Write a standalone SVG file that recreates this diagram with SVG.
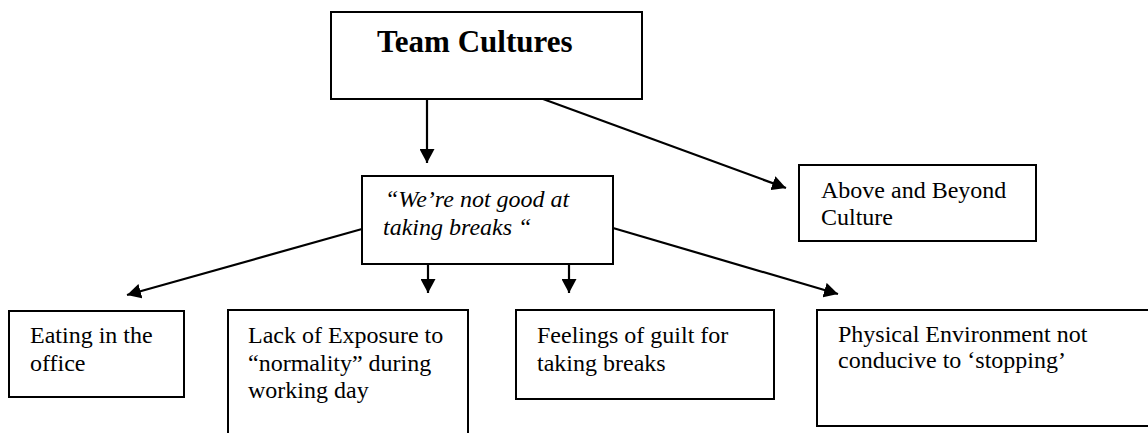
<svg xmlns="http://www.w3.org/2000/svg" width="1148" height="433" viewBox="0 0 1148 433">
<style>
.box{fill:#fff;stroke:#000;stroke-width:2}
.t{font-family:"Liberation Serif","Times New Roman",serif;font-size:24px;fill:#000}
.it{font-style:italic}
.title{font-size:31px;font-weight:bold}
.conn{stroke:#000;stroke-width:2.2;fill:none;marker-end:url(#ah)}
</style>
<defs>
<marker id="ah" viewBox="0 0 14 15" refX="14" refY="7.5" markerWidth="14" markerHeight="15" markerUnits="userSpaceOnUse" orient="auto">
<path d="M0,0 L14,7.5 L0,15 z" fill="#000"/>
</marker>
</defs>
<rect width="1148" height="433" fill="#fff"/>
<g id="connectors">
<line class="conn" x1="427" y1="99" x2="427" y2="163"/>
<line class="conn" x1="543" y1="99" x2="786" y2="188"/>
<line class="conn" x1="362" y1="229" x2="127" y2="295"/>
<line class="conn" x1="613" y1="228" x2="838" y2="294"/>
<line class="conn" x1="428" y1="264" x2="428" y2="293"/>
<line class="conn" x1="569" y1="264" x2="569" y2="293"/>
</g>
<g id="team-cultures">
<rect class="box" x="331" y="12" width="311" height="87"/>
<text class="t title" x="377" y="52">Team Cultures</text>
</g>
<g id="not-good-at-breaks">
<rect class="box" x="362" y="176" width="251" height="88"/>
<text class="t it" x="385" y="207">“We’re not good at</text>
<text class="t it" x="383" y="235">taking breaks “</text>
</g>
<g id="above-beyond">
<rect class="box" x="799" y="165" width="237" height="76"/>
<text class="t" x="821" y="198">Above and Beyond</text>
<text class="t" x="821" y="225">Culture</text>
</g>
<g id="eating-office">
<rect class="box" x="9" y="311" width="175" height="86"/>
<text class="t" x="30" y="343">Eating in the</text>
<text class="t" x="30" y="371">office</text>
</g>
<g id="lack-exposure">
<rect class="box" x="228" y="310" width="240" height="140"/>
<text class="t" x="248" y="343">Lack of Exposure to</text>
<text class="t" x="248" y="371">“normality” during</text>
<text class="t" x="248" y="398">working day</text>
</g>
<g id="feelings-guilt">
<rect class="box" x="516" y="310" width="258" height="89"/>
<text class="t" x="537" y="343">Feelings of guilt for</text>
<text class="t" x="537" y="371">taking breaks</text>
</g>
<g id="physical-environment">
<rect class="box" x="817" y="310" width="340" height="116"/>
<text class="t" x="838" y="342">Physical Environment not</text>
<text class="t" x="838" y="368">conducive to ‘stopping’</text>
</g>
</svg>
